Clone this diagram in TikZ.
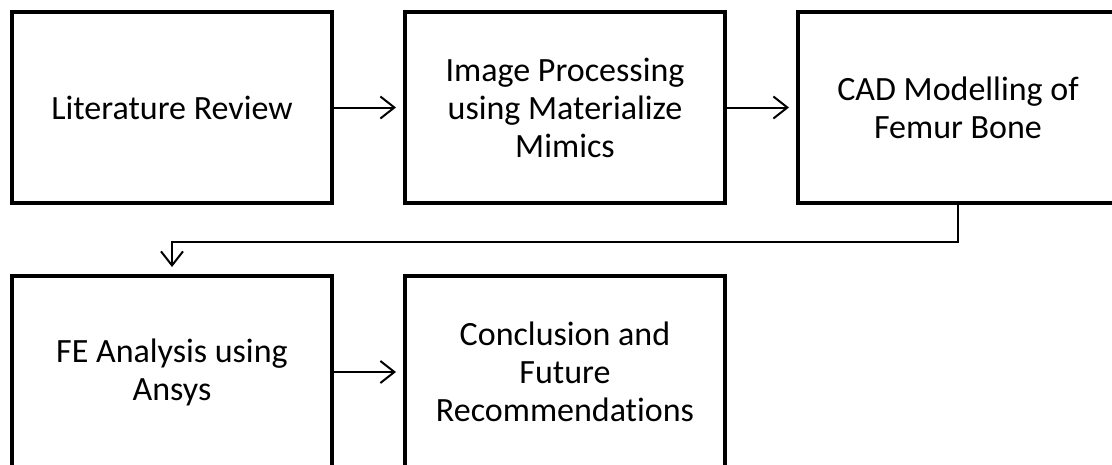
\documentclass[tikz,border=0pt]{standalone}
\usepackage{fontspec}
\setmainfont{Carlito}[Ligatures=NoCommon]
\usetikzlibrary{arrows.meta}
\begin{document}
\begin{tikzpicture}[x=1pt,y=-1pt,
  stepbox/.style={draw=black,line width=4pt,minimum width=320pt,minimum height=191pt,inner sep=0pt,align=center,font=\fontsize{34}{38}\selectfont},
  conn/.style={line width=2pt,-{Straight Barb[length=14pt,width=22pt,line width=2pt]},shorten >=7pt}]
\useasboundingbox (0,0) rectangle (1112,464);
\clip (0,0) rectangle (1112,464);
\fill[white] (0,0) rectangle (1112,464);
\node[stepbox] (b1) at (172,107.5) {Literature Review};
\node[stepbox] (b2) at (565,107.5) {Image Processing\\using Materialize\\Mimics};
\node[stepbox] (b3) at (958,107.5) {CAD Modelling of\\Femur Bone};
\node[stepbox,minimum height=192pt] (b4) at (172,372) {FE Analysis using\\Ansys};
\node[stepbox,minimum height=192pt] (b5) at (565,372) {Conclusion and\\Future\\Recommendations};
\draw[conn] (b1.east) -- (b2.west);
\draw[conn] (b2.east) -- (b3.west);
\draw[conn] (b4.east) -- (b5.west);
\draw[conn] (b3.south) -- ++(0,36.5) -| (b4.north);
\end{tikzpicture}
\end{document}
